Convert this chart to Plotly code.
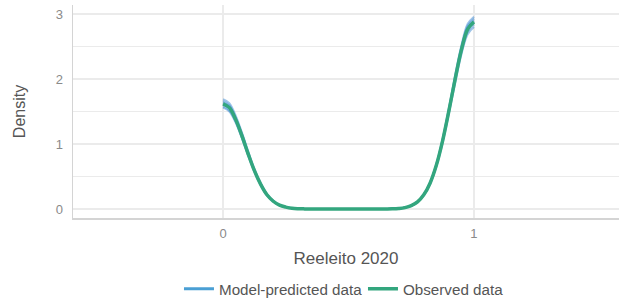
import plotly.graph_objects as go

x_grid = [i * 0.025 for i in range(41)]

observed = [1.62, 1.56, 1.38, 1.13, 0.85, 0.59, 0.38, 0.22, 0.12, 0.06, 0.03, 0.012, 0.005, 0.002,
            0, 0, 0, 0, 0, 0, 0, 0, 0, 0, 0, 0,
            0.001, 0.003, 0.009, 0.022, 0.051, 0.109, 0.218, 0.398, 0.673, 1.05, 1.51, 2.00, 2.45, 2.77, 2.88]

zeros12 = [0] * 12
yrep_draws = [
    [1.66, 1.60, 1.41, 1.16, 0.87, 0.60, 0.39, 0.23, 0.12, 0.06, 0.03, 0.012, 0.005, 0.002] + zeros12 +
    [0.001, 0.003, 0.009, 0.022, 0.050, 0.107, 0.215, 0.392, 0.664, 1.04, 1.49, 1.97, 2.42, 2.73, 2.84],
    [1.58, 1.52, 1.35, 1.10, 0.83, 0.58, 0.37, 0.21, 0.12, 0.06, 0.03, 0.012, 0.005, 0.002] + zeros12 +
    [0.001, 0.003, 0.009, 0.022, 0.052, 0.111, 0.222, 0.405, 0.684, 1.07, 1.54, 2.04, 2.49, 2.82, 2.93],
    [1.64, 1.58, 1.40, 1.14, 0.86, 0.60, 0.38, 0.22, 0.12, 0.06, 0.03, 0.012, 0.005, 0.002] + zeros12 +
    [0.001, 0.003, 0.009, 0.022, 0.051, 0.110, 0.220, 0.401, 0.678, 1.06, 1.52, 2.01, 2.47, 2.79, 2.90],
    [1.69, 1.63, 1.44, 1.18, 0.89, 0.62, 0.40, 0.23, 0.13, 0.06, 0.03, 0.013, 0.005, 0.002] + zeros12 +
    [0.001, 0.003, 0.009, 0.021, 0.050, 0.106, 0.212, 0.387, 0.654, 1.02, 1.47, 1.94, 2.38, 2.69, 2.80],
    [1.56, 1.50, 1.33, 1.09, 0.82, 0.57, 0.37, 0.21, 0.12, 0.06, 0.03, 0.012, 0.005, 0.002] + zeros12 +
    [0.001, 0.003, 0.009, 0.023, 0.052, 0.112, 0.224, 0.409, 0.692, 1.08, 1.55, 2.06, 2.52, 2.85, 2.96],
]

x_ticks = [0, 1]
y_ticks = [0, 1, 2, 3]
x_title = "Reeleito 2020"
y_title = "Density"
series_names = ["Model-predicted data", "Observed data"]

BLUE = "#4a9fd4"
GREEN = "#33a67e"
FONT = "Liberation Sans, Arial, sans-serif"

fig = go.Figure()
for d in yrep_draws:
    fig.add_trace(go.Scatter(x=x_grid, y=d, mode="lines", line=dict(color="rgba(40,125,205,0.45)", width=2, shape="spline"),
                             showlegend=False, hoverinfo="skip"))
fig.add_trace(go.Scatter(x=[None], y=[None], mode="lines", line=dict(color=BLUE, width=3), name=series_names[0]))
fig.add_trace(go.Scatter(x=x_grid, y=observed, mode="lines", line=dict(color=GREEN, width=3.5, shape="spline"),
                         name=series_names[1]))

grid_c = "#ebebeb"
fig.update_layout(
    width=619, height=301,
    margin=dict(l=73, r=0, t=5, b=83, autoexpand=False),
    paper_bgcolor="white", plot_bgcolor="white",
    font=dict(family=FONT, color="#555555"),
    showlegend=True,
    legend=dict(orientation="h", x=0.1941, xanchor="left", y=-0.333, yanchor="middle",
                font=dict(size=15.2, color="#555555"), itemwidth=30, tracegroupgap=0,
                entrywidth=139, entrywidthmode="pixels"),
    xaxis=dict(range=[-0.598, 1.578], tickvals=x_ticks, ticktext=[str(v) for v in x_ticks],
               automargin=False,
               showgrid=True, gridcolor=grid_c, gridwidth=1.5, zeroline=False,
               showline=True, linecolor="#d4d4d4", linewidth=1.5,
               tickfont=dict(size=13, color="#8a8a8a"), ticks="", ticklabelstandoff=3,
               title=dict(text=x_title, font=dict(size=17, color="#555555"), standoff=12)),
    yaxis=dict(range=[-0.138, 3.14], tickvals=y_ticks, ticktext=[str(v) for v in y_ticks],
               automargin=False,
               showgrid=True, gridcolor=grid_c, gridwidth=1.5, zeroline=False,
               minor=dict(tickvals=[0.5, 1.5, 2.5], showgrid=True, gridcolor=grid_c, gridwidth=1.5),
               showline=True, linecolor="#d4d4d4", linewidth=1.5,
               tickfont=dict(size=13, color="#8a8a8a"), ticks="", ticklabelstandoff=6,
               title=dict(text=y_title, font=dict(size=16, color="#555555"), standoff=26)),
)
fig.write_html("out.html", config={"displayModeBar": False, "staticPlot": True},
               post_script="document.body.style.margin='0';")
